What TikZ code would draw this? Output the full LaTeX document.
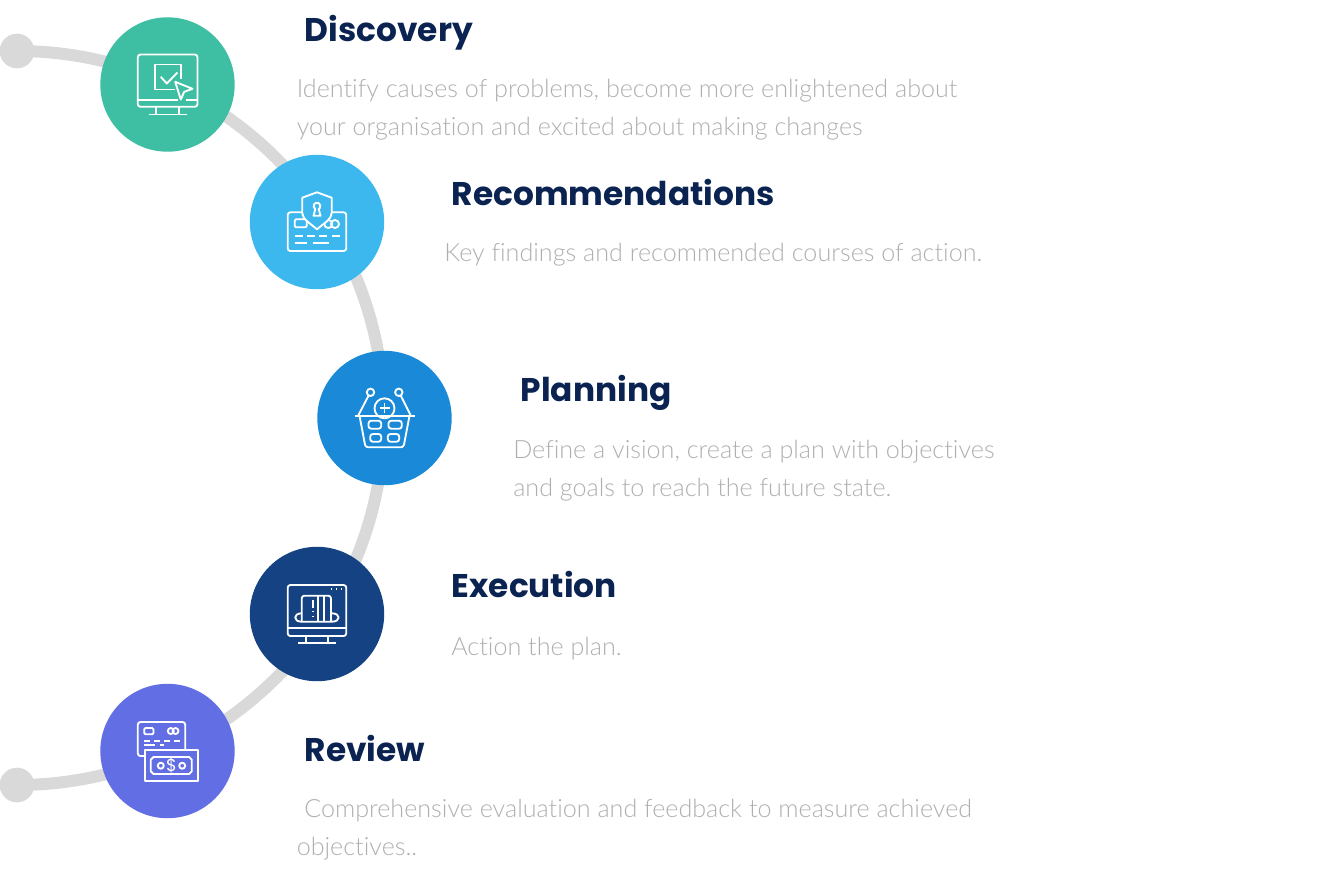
\documentclass[tikz,border=0pt]{standalone}
\usepackage{fontspec}
\setmainfont[Ligatures=NoCommon]{Lato Light}
\newfontfamily\titlefont{Poppins}
\definecolor{mygreen}{RGB}{62,191,163}
\definecolor{mysky}{RGB}{61,184,238}
\definecolor{myblue}{RGB}{26,138,216}
\definecolor{mynavy}{RGB}{20,66,130}
\definecolor{mypurple}{RGB}{98,110,227}
\definecolor{mytitle}{RGB}{10,35,81}
\definecolor{mybody}{RGB}{175,175,175}
\definecolor{mytrack}{RGB}{217,217,217}
\tikzset{
    track/.style={draw=mytrack, line width=9pt},
    trackdot/.style={circle, fill=mytrack, minimum size=26pt, inner sep=0pt},
    stepdisc/.style={circle, minimum size=100.8pt, inner sep=0pt},
    steptitle/.style={anchor=base west, inner sep=0pt, text=mytitle, font=\titlefont\bfseries\fontsize{24.6}{30}\selectfont},
    stepbody/.style={anchor=base west, inner sep=0pt, text=mybody, font=\fontsize{18.85}{24}\selectfont},
    icon/.style={draw=white, line width=1.4pt, line join=round},
}

\begin{document}
\begin{tikzpicture}[x=0.75pt, y=-0.75pt]
    \useasboundingbox (0,0) rectangle (1331,876);

    % Track
    \node[trackdot] (topdot) at (17,51) {};
    \node[trackdot] (bottomdot) at (17,785) {};
    \draw[track] (topdot.center) arc[start angle=-90, end angle=90, radius=367];

    % Discs
    \node[stepdisc, fill=mygreen] (discovery) at (167.5,84.5) {};
    \node[stepdisc, fill=mysky] (recommendations) at (317,222) {};
    \node[stepdisc, fill=myblue] (planning) at (384.5,418) {};
    \node[stepdisc, fill=mynavy] (execution) at (317,614) {};
    \node[stepdisc, fill=mypurple] (review) at (167.5,751) {};

    % Discovery icon
    \begin{scope}[shift={(discovery.center)}, icon]
        \draw[rounded corners=2pt] (-29.7,-30) rectangle (30,22.3);
        \draw (-29.7,15.7) -- (10,15.7) (18,15.7) -- (30,15.7);
        \draw (-11.3,22.3) -- (-11.3,30) (11.3,22.3) -- (11.3,30);
        \draw (-19,30) -- (19.3,30);
        \draw (13.3,-6) -- (13.3,-20) -- (-12.3,-20) -- (-12.3,5) -- (7,5);
        \draw (-6.7,-7.7) -- (-0.7,-1) -- (10,-12);
        \draw (7.7,-2.7) -- (25,4.3) -- (16.7,7.3) -- (13.3,15) -- cycle;
    \end{scope}

    % Recommendations icon
    \begin{scope}[shift={(recommendations.center)}, icon]
        \draw[rounded corners=2pt] (-29.3,-9.7) rectangle (29.3,29);
        \draw[rounded corners=1pt] (-22.3,-2.7) rectangle (-10.3,5.3);
        \draw (11.3,2) circle[radius=4] (18,2) circle[radius=4];
        \draw[fill=mysky] (0,-29.7) -- (-14.7,-24.3) -- (-14.7,-8.7) .. controls (-14.7,-3) and (-6,2) .. (0,7.3)
            .. controls (6,2) and (14.7,-3) .. (14.7,-8.7) -- (14.7,-24.3) -- cycle;
        \draw (-1.7,-13) arc[start angle=120, end angle=420, radius=3.4] -- (3.5,-6.3) -- (-3.5,-6.3) -- cycle;
        \draw (-22.3,14) -- (-13.7,14) (-9.7,14) -- (-2,14) (2.3,14) -- (10.3,14) (14.7,14) -- (23,14);
        \draw (-22.3,21.3) -- (-9.7,21.3) (-4.3,21.3) -- (12.3,21.3);
    \end{scope}

    % Planning icon
    \begin{scope}[shift={(planning.center)}, icon]
        \draw (-30,-2.3) -- (30.7,-2.3);
        \draw[rounded corners=2pt] (-25,-2.3) -- (-19,29.3) -- (19,29.3) -- (25,-2.3);
        \draw (-14,-25.7) circle[radius=3.7] (14.3,-25.7) circle[radius=3.7];
        \draw (-16,-22.3) -- (-26,-3) (16.3,-22.3) -- (26,-3);
        \draw (0,-9.7) circle[radius=10];
        \draw (-5,-9.7) -- (5,-9.7) (0,-14.7) -- (0,-4.7);
        \draw[rounded corners=2pt] (-16,2.7) rectangle (-3.3,10.7) (4,2.7) rectangle (17.3,10.7);
        \draw[rounded corners=2pt] (-14.3,16) rectangle (-3.3,23.7) (3.3,16) rectangle (14.7,23.7);
    \end{scope}

    % Execution icon
    \begin{scope}[shift={(execution.center)}, icon]
        \draw[rounded corners=2pt] (-29.3,-29) rectangle (29.3,22);
        \draw (-29.3,14.3) -- (29.3,14.3);
        \draw (-11,22) -- (-11,29) (11,22) -- (11,29);
        \draw (-18.7,29) -- (19,29);
        \draw (14.3,-24.7) -- (15.3,-24.7) (19.3,-24.7) -- (20.3,-24.7) (24.3,-24.7) -- (25.3,-24.7);
        \draw[rounded corners=2pt] (-15.3,7.7) -- (-15.3,-18.3) -- (14,-18.3) -- (14,7.7);
        \draw (1.3,-18.3) -- (1.3,7.7) (7,-18.3) -- (7,7.7);
        \draw (-4,-14) -- (-4,-5.7) (-4,-3.3) -- (-4,-2.3) (-4,2) -- (-4,3);
        \draw (-15.3,-0.7) .. controls (-24,-0.7) and (-24,7.7) .. (-15.3,7.7) -- (14.7,7.7)
            .. controls (24,7.7) and (24,-0.7) .. (14.7,-0.7);
    \end{scope}

    % Review icon
    \begin{scope}[shift={(review.center)}, icon]
        \draw[rounded corners=2pt] (-22.7,5) -- (-29.7,5) -- (-29.7,-29) -- (17.7,-29) -- (17.7,-0.7);
        \draw[rounded corners=1pt] (-23.3,-23) rectangle (-14,-16.7);
        \draw (3.3,-20) circle[radius=3] (8,-20) circle[radius=3];
        \draw (-23.3,-10.3) -- (-18,-10.3) (-14,-10.3) -- (-8,-10.3) (-4,-10.3) -- (2,-10.3) (6,-10.3) -- (12.7,-10.3);
        \draw (-23.3,-5.7) -- (-12.3,-5.7) (-8,-5.7) -- (-4,-5.7);
        \draw (-22.7,-0.7) rectangle (30.3,29.7);
        \draw (-14,6) -- (21.6,6) -- (24.3,8.7) -- (24.3,20.3) -- (21.6,23) -- (-14,23) -- (-16.7,20.3) -- (-16.7,8.7) -- cycle;
        \draw (-6.7,14.7) circle[radius=3] (14.7,14.7) circle[radius=3];
    \end{scope}
    \node[text=white, inner sep=0pt, font=\titlefont\fontsize{13}{13}\selectfont] (reviewsign) at ([shift={(4,14.7)}]review.center) {\$};

    % Titles and texts
    \node[steptitle] (discoverytitle) at (304.5,41) {Discovery};
    \node[stepbody] (discoveryone) at (296.5,97) {Identify causes of problems, become more enlightened about};
    \node[stepbody] (discoverytwo) at (296.5,135) {your organisation and excited about making changes};

    \node[steptitle] (recommendationstitle) at (451.5,205) {Recommendations};
    \node[stepbody] (recommendationsone) at (444,261) {Key findings and recommended courses of action.};

    \node[steptitle] (planningtitle) at (520.5,401) {Planning};
    \node[stepbody] (planningone) at (513,458) {Define a vision, create a plan with objectives};
    \node[stepbody] (planningtwo) at (513,496) {and goals to reach the future state.};

    \node[steptitle] (executiontitle) at (451.5,597) {Execution};
    \node[stepbody] (executionone) at (451,655) {Action the plan.};

    \node[steptitle] (reviewtitle) at (304.5,761) {Review};
    \node[stepbody] (reviewone) at (304,817) {Comprehensive evaluation and feedback to measure achieved};
    \node[stepbody] (reviewtwo) at (296.5,855) {objectives..};
\end{tikzpicture}
\end{document}
